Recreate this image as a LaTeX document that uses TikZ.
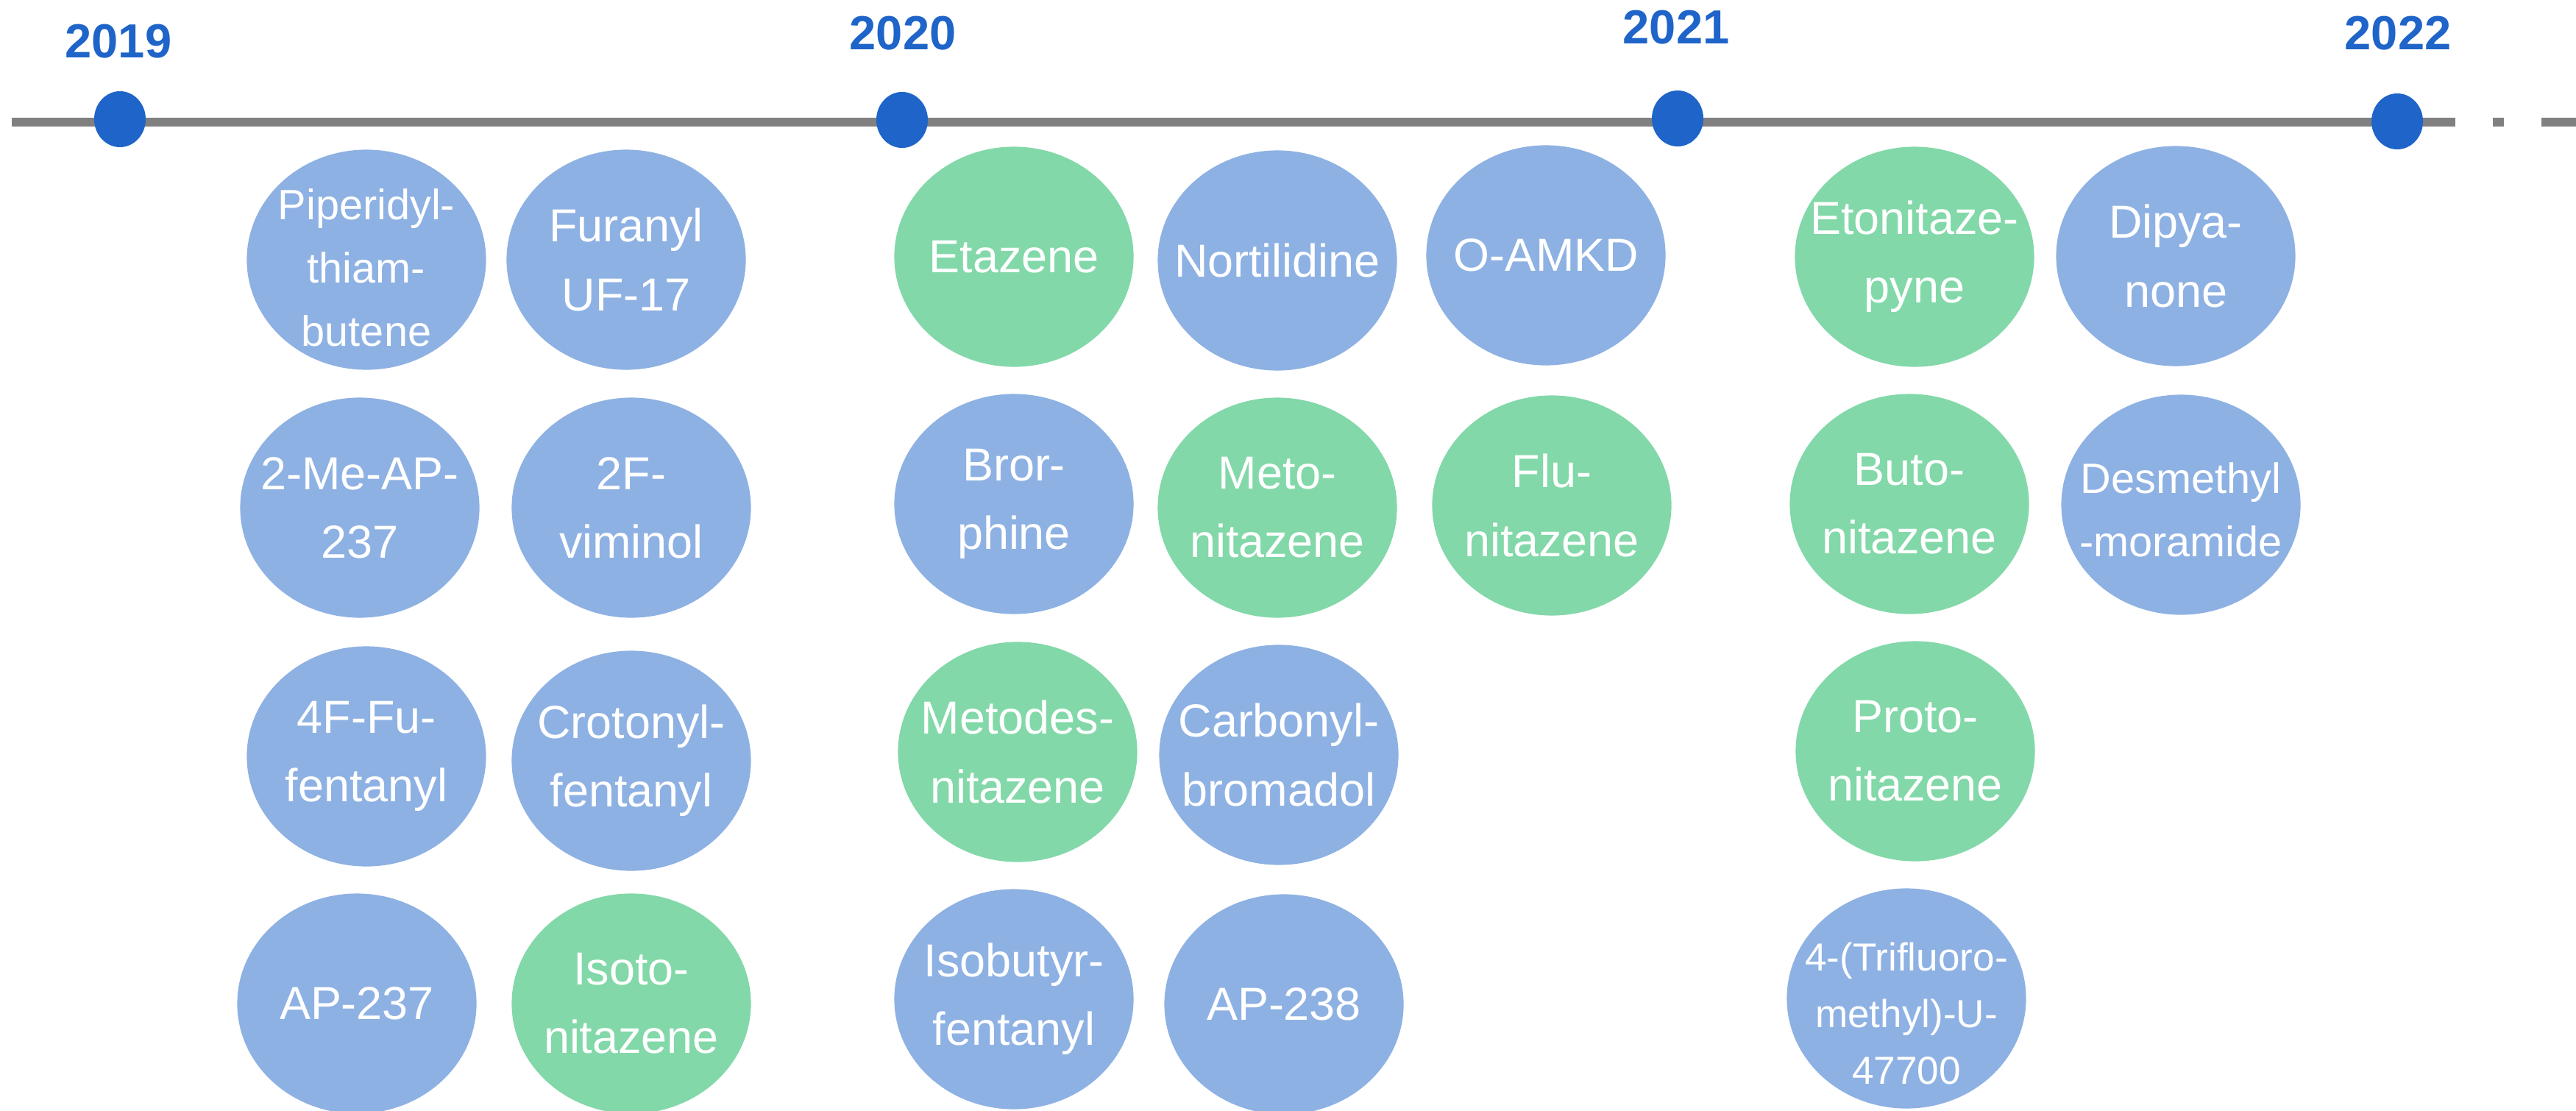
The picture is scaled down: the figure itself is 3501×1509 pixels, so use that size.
\documentclass[tikz,border=0pt]{standalone}
\usepackage{fontspec}
\setmainfont{Liberation Sans}
\usetikzlibrary{shapes.geometric}

\definecolor{yearblue}{HTML}{1F64C8}
\definecolor{otherblue}{HTML}{8EB1E3}
\definecolor{nitagreen}{HTML}{82D8A8}
\definecolor{linegray}{HTML}{808080}

\begin{document}
\begin{tikzpicture}[
        x=0.01cm, y=-0.01cm,
        compound/.style={
            ellipse,
            inner sep=0pt,
            minimum width=3.25cm,
            minimum height=2.99cm
        },
        opioid/.style={compound, fill=otherblue},
        nitazene/.style={compound, fill=nitagreen},
        drugname/.style={
            text=white,
            inner sep=0pt,
            align=center,
            font={\fontsize{17.9}{26.5}\selectfont}
        },
        smallname/.style={drugname, font={\fontsize{16.4}{24.4}\selectfont}},
        tinyname/.style={drugname, font={\fontsize{15.1}{21.9}\selectfont}},
        year/.style={
            text=yearblue,
            inner sep=0pt,
            font={\bfseries\fontsize{18.5}{22}\selectfont}
        },
        yeardot/.style={
            ellipse,
            fill=yearblue,
            inner sep=0pt,
            minimum width=0.70cm,
            minimum height=0.76cm
        },
        timeline/.style={
            draw=linegray,
            line width=0.12cm
        }
    ]

        \useasboundingbox (0,0) rectangle (3501,1509);

        % timeline
        \coordinate (line start) at (16,166);
        \coordinate (line end) at (3337,166);
        \coordinate (tail start) at (3388,166);
        \coordinate (tail end) at (3520,166);
        \draw[timeline] (line start) -- (line end);
        \draw[timeline, dash pattern=on 4.27pt off 14.51pt on 30pt off 0pt] (tail start) -- (tail end);

        \node[yeardot] (dot19) at (163,162) {};
        \node[yeardot] (dot20) at (1226,163) {};
        \node[yeardot] (dot21) at (2280,161) {};
        \node[yeardot] (dot22) at (3258,165) {};

        \node[year] (y19) at (161,56) {2019};
        \node[year] (y20) at (1227,45) {2020};
        \node[year] (y21) at (2278,37) {2021};
        \node[year] (y22) at (3259,45) {2022};

        % 2019
        \node[opioid, label={[smallname, yshift=-0.11cm]center:Piperidyl-\\thiam-\\butene}] (piperidyl) at (498,353) {};
        \node[opioid, label={[drugname]center:Furanyl\\UF-17}] (furanyl) at (851,353) {};
        \node[opioid, label={[drugname]center:2-Me-AP-\\237}] (memap) at (489,690) {};
        \node[opioid, label={[drugname]center:2F-\\viminol}] (viminol) at (858,690) {};
        \node[opioid, label={[drugname]center:4F-Fu-\\fentanyl}] (fufentanyl) at (498,1028) {};
        \node[opioid, label={[drugname]center:Crotonyl-\\fentanyl}] (crotonyl) at (858,1034) {};
        \node[opioid, label={[drugname]center:AP-237}] (ap237) at (485,1364) {};
        \node[nitazene, label={[drugname]center:Isoto-\\nitazene}] (isoto) at (858,1364) {};

        % 2020
        \node[nitazene, label={[drugname]center:Etazene}] (etazene) at (1378,349) {};
        \node[opioid, label={[drugname]center:Nortilidine}] (nortilidine) at (1736,354) {};
        \node[opioid, label={[drugname]center:O-AMKD}] (oamkd) at (2101,347) {};
        \node[opioid, label={[drugname]center:Bror-\\phine}] (brorphine) at (1378,685) {};
        \node[nitazene, label={[drugname]center:Meto-\\nitazene}] (meto) at (1736,690) {};
        \node[nitazene, label={[drugname]center:Flu-\\nitazene}] (flu) at (2109,687) {};
        \node[nitazene, label={[drugname]center:Metodes-\\nitazene}] (metodes) at (1383,1022) {};
        \node[opioid, label={[drugname]center:Carbonyl-\\bromadol}] (carbonyl) at (1738,1026) {};
        \node[opioid, label={[drugname]center:Isobutyr-\\fentanyl}] (isobutyr) at (1378,1358) {};
        \node[opioid, label={[drugname]center:AP-238}] (ap238) at (1745,1365) {};

        % 2021
        \node[nitazene, label={[drugname]center:Etonitaze-\\pyne}] (etonitazepyne) at (2602,349) {};
        \node[opioid, label={[drugname]center:Dipya-\\none}] (dipyanone) at (2957,348) {};
        \node[nitazene, label={[drugname]center:Buto-\\nitazene}] (buto) at (2595,685) {};
        \node[opioid, label={[smallname, yshift=-0.07cm]center:Desmethyl\\-moramide}] (desmethyl) at (2964,686) {};
        \node[nitazene, label={[drugname]center:Proto-\\nitazene}] (proto) at (2603,1021) {};
        \node[opioid, label={[tinyname, yshift=-0.2cm]center:4-(Trifluoro-\\methyl)-U-\\47700}] (trifluoro) at (2591,1357) {};

    \end{tikzpicture}
\end{document}
